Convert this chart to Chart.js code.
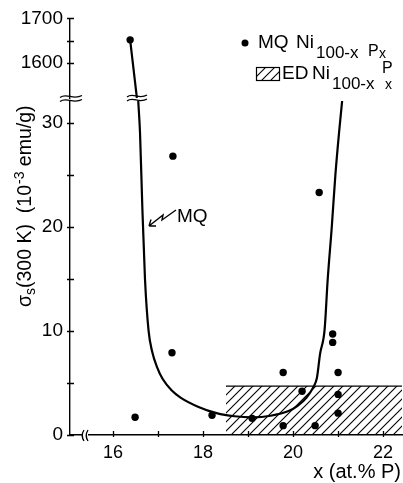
<!DOCTYPE html>
<html>
<head>
<meta charset="utf-8">
<script src="https://cdn.jsdelivr.net/npm/chart.js@4/dist/chart.umd.min.js"></script>
<style>
body { margin: 0; background: #fff; }
#wrap { position: relative; width: 403px; height: 483px; }
canvas { position: absolute; left: 0; top: 0; }
</style>
</head>
<body>
<div id="wrap">
  <canvas id="lower" width="403" height="483"></canvas>
  <canvas id="upper" width="403" height="483"></canvas>
</div>
<script>
// x axis (at.% P)
var xTicks = [16, 17, 18, 19, 20, 21, 22];
var xLabels = [16, 18, 20, 22];
// lower part of the broken y axis (10^-3 emu/g)
var yTicksLow = [0, 5, 10, 15, 20, 25, 30];
var yLabelsLow = [0, 10, 20, 30];
// upper part of the broken y axis
var yTicksHigh = [1600, 1650, 1700];
var yLabelsHigh = [1600, 1700];

// MQ Ni100-x Px samples
var mqHigh = [[16.38, 1652]];
var mqLow = [
    [16.49, 1.7], [17.31, 7.9], [17.33, 26.8], [18.2, 1.9], [19.09, 1.6],
    [19.78, 6.0], [19.78, 0.9], [20.2, 4.2], [20.49, 0.9], [20.58, 23.3],
    [20.88, 9.7], [20.88, 8.9], [21.0, 6.0], [21.0, 3.9], [21.0, 2.1]
];

// MQ guide curve
var curveHigh = [[16.38, 1652], [16.44, 1600], [16.53, 1522]];
var curveLow = [
    [16.56, 32.1], [16.6, 29], [16.65, 22], [16.71, 15], [16.79, 10],
    [16.87, 8], [16.98, 6.5], [17.1, 5.4], [17.3, 4.3], [17.5, 3.6],
    [17.9, 2.7], [18.3, 2.1], [18.7, 1.8], [19.1, 1.7], [19.5, 1.85],
    [19.9, 2.3], [20.1, 2.8], [20.3, 3.6], [20.45, 4.6], [20.53, 5.5],
    [20.6, 7.8], [20.7, 10.1], [20.77, 15], [20.86, 20], [20.94, 25],
    [21.02, 29], [21.09, 32.1]
];

// ED Ni100-x Px band
var edX = [18.51, 22.42];
var edTop = 4.7;

var FONT = "'Liberation Sans', Arial, sans-serif";

function toXY(arr) {
    return arr.map(function (p) { return { x: p[0], y: p[1] }; });
}

// hatch pattern ////
function makeHatch() {
    var c = document.createElement("canvas");
    c.width = 9; c.height = 9;
    var g = c.getContext("2d");
    g.strokeStyle = "#000";
    g.lineWidth = 1.1;
    g.beginPath();
    g.moveTo(0, 9); g.lineTo(9, 0);
    g.moveTo(-1, 1); g.lineTo(1, -1);
    g.moveTo(8, 10); g.lineTo(10, 8);
    g.stroke();
    return g.createPattern(c, "repeat");
}
var hatch = makeHatch();

function wave(ctx, x0, x1, y) {
    var w = x1 - x0;
    ctx.beginPath();
    ctx.moveTo(x0, y + 1);
    ctx.bezierCurveTo(x0 + w * 0.3, y - 4, x0 + w * 0.6, y + 4, x1, y - 1);
    ctx.stroke();
}

function tickMarks(chart, showX) {
    var ctx = chart.ctx;
    var xs = chart.scales.x, ys = chart.scales.y;
    var a = chart.chartArea;
    ctx.save();
    ctx.strokeStyle = "#000";
    ctx.lineWidth = 1.3;
    ctx.beginPath();
    ys.ticks.forEach(function (t) {
        var py = Math.round(ys.getPixelForValue(t.value)) + 0.5;
        ctx.moveTo(a.left - 3, py); ctx.lineTo(a.left + 4, py);
    });
    if (showX) {
        xs.ticks.forEach(function (t) {
            var px = Math.round(xs.getPixelForValue(t.value)) + 0.5;
            ctx.moveTo(px, a.bottom - 4); ctx.lineTo(px, a.bottom + 2);
        });
    }
    ctx.stroke();
    ctx.restore();
}

function sized(ctx, size, text, x, y) {
    ctx.font = size + "px " + FONT;
    ctx.fillText(text, x, y);
    return x + ctx.measureText(text).width;
}

var lowerDecor = {
    id: "lowerDecor",
    afterDraw: function (chart) {
        var ctx = chart.ctx;
        var a = chart.chartArea;
        tickMarks(chart, true);
        ctx.save();
        ctx.fillStyle = "#000";
        ctx.strokeStyle = "#000";
        ctx.lineWidth = 1.3;

        // break on the x axis
        ctx.fillStyle = "#fff";
        ctx.fillRect(82, a.bottom - 3, 6, 6);
        ctx.fillStyle = "#000";
        ctx.beginPath();
        ctx.moveTo(84, 430); ctx.quadraticCurveTo(80.5, 435.5, 84, 441);
        ctx.moveTo(88, 430); ctx.quadraticCurveTo(84.5, 435.5, 88, 441);
        ctx.stroke();

        // breaks on the y axis and on the curve
        wave(ctx, 60, 82, 96.5);
        wave(ctx, 60, 82, 100.5);
        wave(ctx, 127, 147, 96);
        wave(ctx, 127, 147, 100);

        // MQ label with zigzag arrow
        sized(ctx, 19, "MQ", 177, 222);
        ctx.lineWidth = 1.4;
        ctx.beginPath();
        ctx.moveTo(176, 210); ctx.lineTo(162, 220); ctx.lineTo(163, 215); ctx.lineTo(149, 226);
        ctx.moveTo(149, 226); ctx.lineTo(156, 226);
        ctx.moveTo(149, 226); ctx.lineTo(151, 219.5);
        ctx.stroke();

        // legend
        ctx.beginPath();
        ctx.arc(245, 43, 3.5, 0, Math.PI * 2);
        ctx.fill();
        sized(ctx, 19, "MQ", 258, 48);
        sized(ctx, 19, "Ni", 296, 48);
        sized(ctx, 17, "100-x", 316, 58);
        sized(ctx, 16, "P", 368, 56);
        sized(ctx, 14, "x", 379, 58);

        ctx.fillStyle = hatch;
        ctx.fillRect(256, 67, 24, 14);
        ctx.fillStyle = "#000";
        ctx.lineWidth = 1.2;
        ctx.strokeRect(256.5, 67.5, 23, 13);
        sized(ctx, 19, "ED", 282, 79);
        sized(ctx, 19, "Ni", 312, 79);
        sized(ctx, 17, "100-x", 332, 89);
        sized(ctx, 16, "P", 382, 73);
        sized(ctx, 14, "x", 385, 89);

        // axis titles
        ctx.textAlign = "right";
        sized(ctx, 20, "x (at.% P)", 401, 478);
        ctx.textAlign = "left";

        ctx.translate(31, 307);
        ctx.rotate(-Math.PI / 2);
        var px = 0;
        px = sized(ctx, 19.5, "\u03c3", px, 0);
        px = sized(ctx, 14, "s", px, 4);
        px = sized(ctx, 19.5, "(300 K)  (10", px, 0);
        px = sized(ctx, 14, "-3", px + 1, -7);
        sized(ctx, 19.5, " emu/g)", px, 0);
        ctx.restore();
    }
};

var upperDecor = {
    id: "upperDecor",
    afterDraw: function (chart) {
        tickMarks(chart, false);
    }
};

function makeOptions(yMin, yMax, yTicks, yLabels, padTop, padBottom, showX) {
    return {
        responsive: false,
        animation: false,
        devicePixelRatio: 1,
        layout: { autoPadding: false, padding: { left: 0, right: 1, top: padTop, bottom: padBottom } },
        plugins: { legend: { display: false }, tooltip: { enabled: false } },
        scales: {
            x: {
                type: "linear",
                min: 15.044,
                max: 22.42,
                display: showX,
                grid: { display: false, drawTicks: false },
                border: { display: true, color: "#000", width: 1.4 },
                afterBuildTicks: function (s) {
                    s.ticks = xTicks.map(function (v) { return { value: v }; });
                },
                afterFit: function (s) { s.height = showX ? 48 : 0; },
                ticks: {
                    padding: 7,
                    color: "#000",
                    maxRotation: 0,
                    autoSkip: false,
                    font: { family: FONT, size: 18 },
                    callback: function (v) { return xLabels.indexOf(v) >= 0 ? String(v) : ""; }
                }
            },
            y: {
                type: "linear",
                min: yMin,
                max: yMax,
                grid: { display: false, drawTicks: false },
                border: { display: true, color: "#000", width: 1.4 },
                afterBuildTicks: function (s) {
                    s.ticks = yTicks.map(function (v) { return { value: v }; });
                },
                afterFit: function (s) { s.width = 70; },
                ticks: {
                    padding: 7,
                    color: "#000",
                    autoSkip: false,
                    font: { family: FONT, size: 19 },
                    callback: function (v) { return yLabels.indexOf(v) >= 0 ? String(v) : ""; }
                }
            }
        }
    };
}

// lower panel: 0 .. 32.1, chart area 101..435
new Chart(document.getElementById("lower"), {
    type: "scatter",
    data: {
        datasets: [
            {
                type: "line",
                data: toXY([[edX[0], edTop], [edX[1], edTop]]),
                borderColor: "#000",
                borderWidth: 1.3,
                backgroundColor: hatch,
                fill: "origin",
                pointRadius: 0
            },
            {
                type: "line",
                data: toXY(curveLow),
                borderColor: "#000",
                borderWidth: 2.2,
                cubicInterpolationMode: "monotone",
                fill: false,
                pointRadius: 0
            },
            {
                data: toXY(mqLow),
                backgroundColor: "#000",
                borderWidth: 0,
                pointRadius: 3.7
            }
        ]
    },
    options: makeOptions(0, 32.1, yTicksLow, yLabelsLow, 101, 0, true),
    plugins: [lowerDecor]
});

// upper panel: 1522 .. 1700, chart area 15..97
new Chart(document.getElementById("upper"), {
    type: "scatter",
    data: {
        datasets: [
            {
                type: "line",
                data: toXY(curveHigh),
                borderColor: "#000",
                borderWidth: 2.2,
                fill: false,
                pointRadius: 0
            },
            {
                data: toXY(mqHigh),
                backgroundColor: "#000",
                borderWidth: 0,
                pointRadius: 3.7
            }
        ]
    },
    options: makeOptions(1522, 1700, yTicksHigh, yLabelsHigh, 15, 385, false),
    plugins: [upperDecor]
});
</script>
</body>
</html>
